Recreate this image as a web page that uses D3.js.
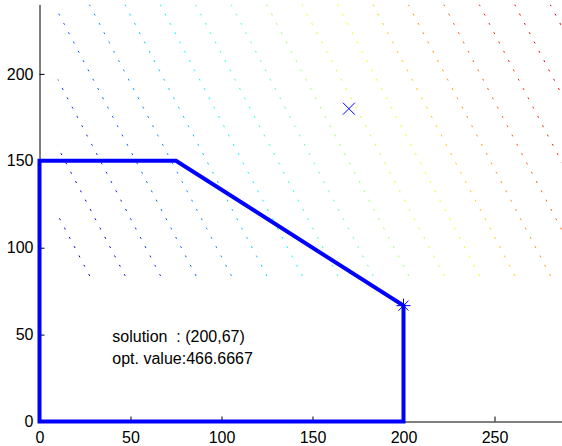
<!DOCTYPE html>
<html>
<head>
<meta charset="utf-8">
<script src="https://cdn.jsdelivr.net/npm/d3@7"></script>
<style>
  html, body { margin: 0; padding: 0; background: #fff; }
  svg { display: block; }
  text { font-family: "Liberation Sans", Arial, Helvetica, sans-serif; }
  text.note { white-space: pre; }
</style>
</head>
<body>
<svg id="chart" width="562" height="446"></svg>
<script>
// Feasible region boundary of the LP (closed polygon)
const feasX = [0, 0, 75, 200, 200];
const feasY = [0, 150, 150, 66.6667, 0];

// Optimal vertex and the other marked point
const optPoint = [200, 66.6667];
const markPoint = [170, 180];

// Objective z = c1*x + c2*y and the grid the contour lines cover
const objCoef = [2, 1];
const gridX = [10, 300];
const gridY = [80, 240];
const zRange = [100, 840];
const levels = [138.9, 177.9, 216.8, 255.8, 294.7, 333.7, 372.6, 411.6, 450.5,
                489.5, 528.4, 567.4, 606.3, 645.3, 684.2, 723.2, 762.1, 801.1];

// Axis ticks
const xTicks = [0, 50, 100, 150, 200, 250];
const yTicks = [0, 50, 100, 150, 200];

// Text annotations
const noteLines = ["solution  : (200,67)", "opt. value:466.6667"];

const svg = d3.select("#chart");

const x = d3.scaleLinear().domain([0, 300]).range([39.5, 585.5]);
const y = d3.scaleLinear().domain([0, 240]).range([421.5, 4.4]);

// MATLAB-style jet colormap
function jet(t) {
  const c = v => Math.max(0, Math.min(1, v));
  const r = c(1.5 - Math.abs(4 * t - 3));
  const g = c(1.5 - Math.abs(4 * t - 2));
  const b = c(1.5 - Math.abs(4 * t - 1));
  return d3.rgb(r * 255, g * 255, b * 255).formatHex();
}
const colorT = d3.scaleLinear().domain(zRange).range([0, 1]);

// Contour lines of the objective, clipped to the grid rectangle
svg.append("defs").append("clipPath").attr("id", "gridClip")
  .append("rect")
  .attr("x", x(gridX[0]))
  .attr("y", y(gridY[1]))
  .attr("width", x(gridX[1]) - x(gridX[0]))
  .attr("height", y(gridY[0]) - y(gridY[1]));

const contourG = svg.append("g").attr("clip-path", "url(#gridClip)");
contourG.selectAll("line.level")
  .data(levels)
  .join("line")
  .attr("class", "level")
  .attr("x1", L => x((L - objCoef[1] * gridY[1]) / objCoef[0]))
  .attr("y1", y(gridY[1]))
  .attr("x2", L => x((L - objCoef[1] * gridY[0]) / objCoef[0]))
  .attr("y2", y(gridY[0]))
  .attr("stroke", L => jet(colorT(L)))
  .attr("stroke-width", 1)
  .attr("stroke-dasharray", "2,8.5");

// Axes (ticks pointing inward, no box)
const xAxis = d3.axisBottom(x).tickValues(xTicks).tickSizeInner(-5).tickSizeOuter(0).tickPadding(10);
const yAxis = d3.axisLeft(y).tickValues(yTicks).tickSizeInner(-5).tickSizeOuter(0).tickPadding(6);

const gx = svg.append("g").attr("transform", `translate(0,${y(0)})`).call(xAxis);
const gy = svg.append("g").attr("transform", `translate(${x(0)},0)`).call(yAxis);
[gx, gy].forEach(g => {
  g.select(".domain").attr("stroke", "#000").attr("stroke-width", 1);
  g.selectAll(".tick line").attr("stroke", "#000").attr("stroke-width", 1);
  g.selectAll(".tick text").attr("fill", "#000").attr("font-size", 16)
    .attr("font-family", "'Liberation Sans', Arial, Helvetica, sans-serif");
});

// Feasible region outline
const poly = feasX.map((v, i) => [x(v), y(feasY[i])]);
svg.append("path")
  .attr("d", d3.line()(poly) + "Z")
  .attr("fill", "none")
  .attr("stroke", "#0000ff")
  .attr("stroke-width", 4)
  .attr("stroke-linejoin", "miter");

// 'x' marker
const s = 6;
const mx = x(markPoint[0]), my = y(markPoint[1]);
svg.append("path")
  .attr("d", `M${mx - s},${my - s}L${mx + s},${my + s}M${mx - s},${my + s}L${mx + s},${my - s}`)
  .attr("stroke", "#0000ff").attr("stroke-width", 1).attr("fill", "none");

// '*' marker at the optimum
const ox = x(optPoint[0]), oy = y(optPoint[1]);
const a = 7, d = 5;
svg.append("path")
  .attr("d", `M${ox - a},${oy}L${ox + a},${oy}M${ox},${oy - a}L${ox},${oy + a}` +
             `M${ox - d},${oy - d}L${ox + d},${oy + d}M${ox - d},${oy + d}L${ox + d},${oy - d}`)
  .attr("stroke", "#0000ff").attr("stroke-width", 1).attr("fill", "none");

// Result annotation
svg.selectAll("text.note")
  .data(noteLines)
  .join("text")
  .attr("class", "note")
  .attr("x", x(40))
  .attr("y", (t, i) => 342 + i * 21.5)
  .attr("font-size", 16)
  .attr("fill", "#000")
  .attr("xml:space", "preserve")
  .text(t => t);
</script>
</body>
</html>
